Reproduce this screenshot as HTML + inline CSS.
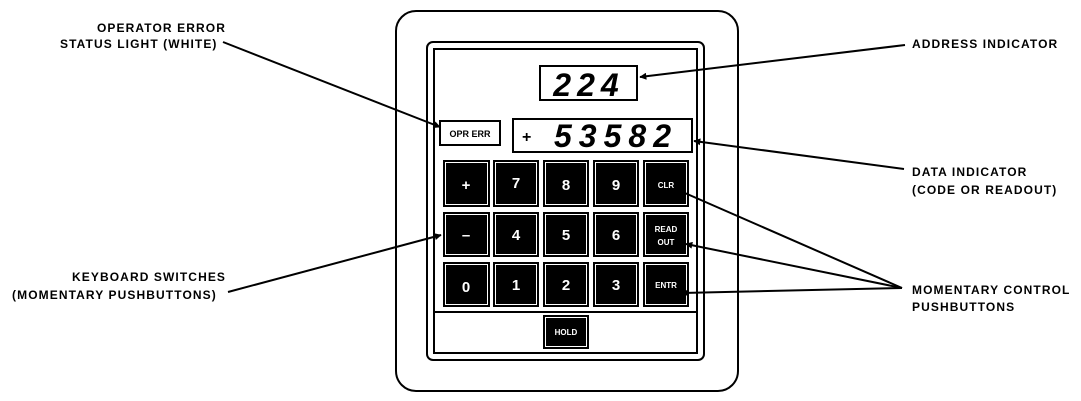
<!DOCTYPE html>
<html><head><meta charset="utf-8"><style>
html,body{margin:0;padding:0;background:#fff;width:1081px;height:401px;overflow:hidden}
text{font-family:"Liberation Sans",sans-serif;font-weight:bold;fill:#000}
</style></head><body>
<svg width="1081" height="401" viewBox="0 0 1081 401" xmlns="http://www.w3.org/2000/svg">
<defs><marker id="a" viewBox="0 0 10 10" refX="9" refY="5" markerWidth="9" markerHeight="7" orient="auto" markerUnits="userSpaceOnUse"><path d="M0,0 L10,5 L0,10 z" fill="#000"/></marker></defs>
<rect x="396" y="11" width="342" height="380" rx="20" fill="none" stroke="#000" stroke-width="2"/>
<rect x="427" y="42" width="277" height="318" rx="6" fill="none" stroke="#000" stroke-width="2"/>
<rect x="434" y="49" width="263" height="304" fill="none" stroke="#000" stroke-width="2"/>
<line x1="434" y1="312" x2="697" y2="312" stroke="#000" stroke-width="2"/>
<rect x="540" y="66" width="97" height="34" fill="none" stroke="#000" stroke-width="2"/>
<text x="589" y="96" font-size="32" font-style="italic" text-anchor="middle" letter-spacing="6">224</text>
<rect x="440" y="121" width="60" height="24" fill="none" stroke="#000" stroke-width="2"/>
<text x="470" y="137" font-size="9" text-anchor="middle">OPR ERR</text>
<rect x="513" y="119" width="179" height="33" fill="none" stroke="#000" stroke-width="2"/>
<text x="522" y="142" font-size="16">+</text>
<text x="616" y="147" font-size="32" font-style="italic" text-anchor="middle" letter-spacing="7">53582</text>
<g fill="#000" stroke="none">
<rect x="443" y="160" width="47" height="47"/><rect x="493" y="160" width="46" height="47"/><rect x="543" y="160" width="46" height="47"/><rect x="593" y="160" width="46" height="47"/><rect x="643" y="160" width="46" height="47"/>
<rect x="443" y="212" width="47" height="45"/><rect x="493" y="212" width="46" height="45"/><rect x="543" y="212" width="46" height="45"/><rect x="593" y="212" width="46" height="45"/><rect x="643" y="212" width="46" height="45"/>
<rect x="443" y="262" width="47" height="45"/><rect x="493" y="262" width="46" height="45"/><rect x="543" y="262" width="46" height="45"/><rect x="593" y="262" width="46" height="45"/><rect x="643" y="262" width="46" height="45"/>
<rect x="543" y="315" width="46" height="34"/>
</g>
<g fill="none" stroke="#fff" stroke-width="1">
<rect x="445.5" y="162.5" width="42" height="42"/><rect x="495.5" y="162.5" width="41" height="42"/><rect x="545.5" y="162.5" width="41" height="42"/><rect x="595.5" y="162.5" width="41" height="42"/><rect x="645.5" y="162.5" width="41" height="42"/>
<rect x="445.5" y="214.5" width="42" height="40"/><rect x="495.5" y="214.5" width="41" height="40"/><rect x="545.5" y="214.5" width="41" height="40"/><rect x="595.5" y="214.5" width="41" height="40"/><rect x="645.5" y="214.5" width="41" height="40"/>
<rect x="445.5" y="264.5" width="42" height="40"/><rect x="495.5" y="264.5" width="41" height="40"/><rect x="545.5" y="264.5" width="41" height="40"/><rect x="595.5" y="264.5" width="41" height="40"/><rect x="645.5" y="264.5" width="41" height="40"/>
<rect x="545.5" y="317.5" width="41" height="29"/>
</g>
<g font-size="15" text-anchor="middle">
<text x="466" y="190" style="fill:#fff">+</text><text x="516" y="188" style="fill:#fff">7</text><text x="566" y="190" style="fill:#fff">8</text><text x="616" y="190" style="fill:#fff">9</text>
<text x="466" y="240" style="fill:#fff">–</text><text x="516" y="240" style="fill:#fff">4</text><text x="566" y="240" style="fill:#fff">5</text><text x="616" y="240" style="fill:#fff">6</text>
<text x="466" y="292" style="fill:#fff">0</text><text x="516" y="290" style="fill:#fff">1</text><text x="566" y="290" style="fill:#fff">2</text><text x="616" y="290" style="fill:#fff">3</text>
<text x="666" y="188" font-size="8" style="fill:#fff">CLR</text>
<text x="666" y="232" font-size="8" style="fill:#fff">READ</text>
<text x="666" y="245" font-size="8" style="fill:#fff">OUT</text>
<text x="666" y="288" font-size="8" style="fill:#fff">ENTR</text>
<text x="566" y="335" font-size="8" style="fill:#fff">HOLD</text>
</g>
<g stroke="#000" stroke-width="2" fill="none">
<line x1="223" y1="42" x2="440" y2="127" marker-end="url(#a)"/>
<line x1="905" y1="45" x2="640" y2="77" marker-end="url(#a)"/>
<line x1="904" y1="169" x2="694" y2="141" marker-end="url(#a)"/>
<line x1="228" y1="292" x2="441" y2="235" marker-end="url(#a)"/>
<line x1="902" y1="288" x2="678" y2="190"/>
<line x1="902" y1="288" x2="686" y2="244" marker-end="url(#a)"/>
<line x1="902" y1="288" x2="682" y2="293" marker-end="url(#a)"/>
</g>
<g font-size="12" letter-spacing="1.1">
<text x="97" y="32">OPERATOR ERROR</text>
<text x="60" y="48">STATUS LIGHT (WHITE)</text>
<text x="912" y="48">ADDRESS INDICATOR</text>
<text x="912" y="176">DATA INDICATOR</text>
<text x="912" y="194">(CODE OR READOUT)</text>
<text x="72" y="281">KEYBOARD SWITCHES</text>
<text x="12" y="299">(MOMENTARY PUSHBUTTONS)</text>
<text x="912" y="294">MOMENTARY CONTROL</text>
<text x="912" y="311">PUSHBUTTONS</text>
</g>
</svg>
</body></html>
